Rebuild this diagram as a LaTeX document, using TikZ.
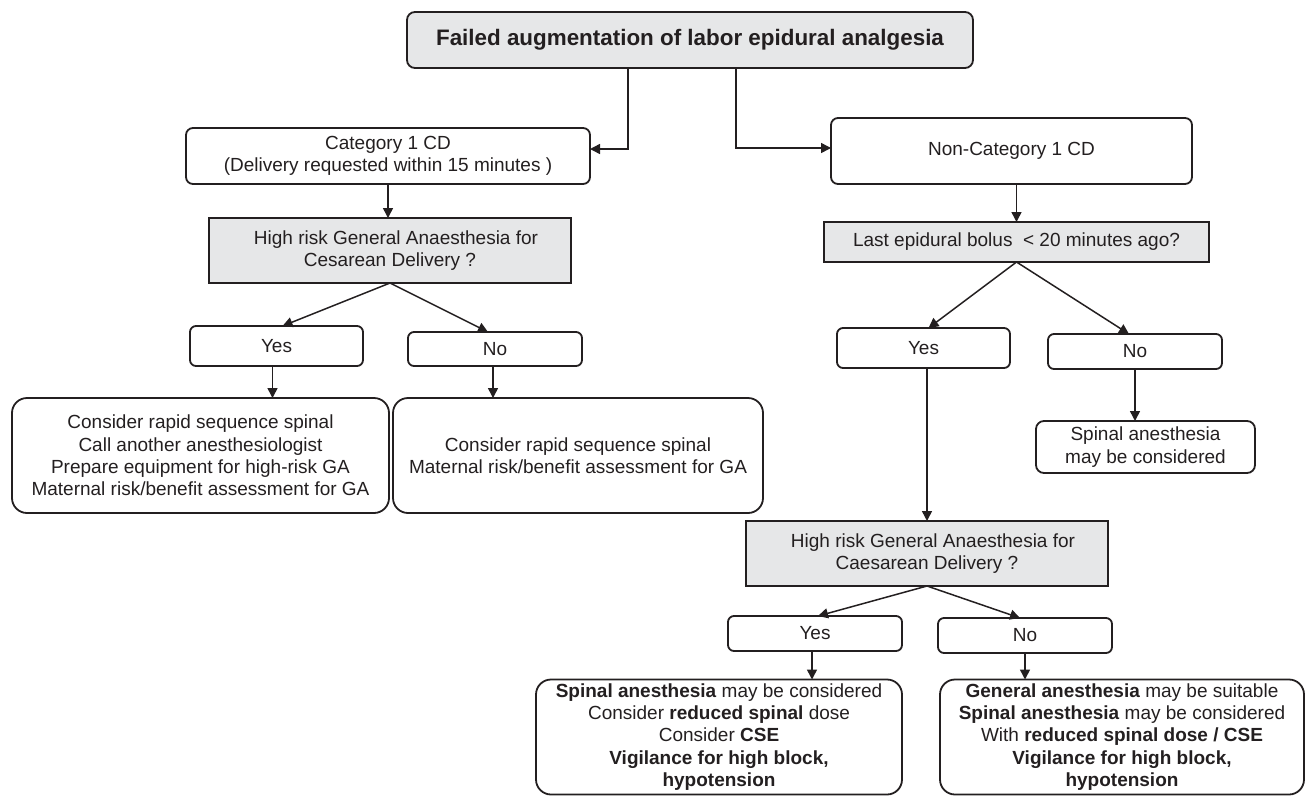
\documentclass[tikz,border=0pt]{standalone}
\usepackage{fontspec}
\setmainfont{Liberation Sans}
\usetikzlibrary{arrows.meta}
\definecolor{boxgray}{HTML}{E6E7E8}
\definecolor{ink}{HTML}{231F20}
\begin{document}
\begin{tikzpicture}[x=1pt,y=-1pt,
  base/.style={draw=ink,line width=1.8pt,inner sep=0pt,outer sep=0pt,align=center,text=ink,
    font=\fontsize{19}{22.3}\selectfont},
  rbox/.style={base,rounded corners=#1},
  gbox/.style={base,fill=boxgray},
  arr/.style={draw=ink,line width=1.5pt,-{Triangle[length=10pt,width=10pt]}},
  wh/.style 2 args={minimum width=#1pt,minimum height=#2pt}]
\useasboundingbox (0,0) rectangle (1306,796);

\node[rbox=8pt,fill=boxgray,wh={566}{56},font=\fontsize{22.4}{26}\selectfont\bfseries] (title) at (690,40) {Failed augmentation of labor epidural analgesia};

\node[rbox=7pt,wh={404}{56}] (cat1) at (388,156) {Category 1 CD\\(Delivery requested within 15 minutes )};
\node[rbox=7pt,wh={361}{66}] (noncat) at (1011.5,151) {Non-Category 1 CD};

\node[gbox,wh={362}{65}] (g1) at (390,250.5) {\hspace*{12pt}High risk General Anaesthesia for\\Cesarean Delivery ?};
\node[gbox,wh={385}{40}] (g2) at (1016.5,242) {Last epidural bolus\ \ < 20 minutes ago?};

\node[rbox=6pt,wh={173}{40}] (yes1) at (276.5,346) {Yes};
\node[rbox=6pt,wh={174}{34}] (no1) at (495,349) {No};

\node[rbox=15pt,wh={377}{115}] (res1) at (200.5,455.5) {Consider rapid sequence spinal\\Call another anesthesiologist\\Prepare equipment for high-risk GA\\Maternal risk/benefit assessment for GA};
\node[rbox=15pt,wh={370}{115}] (res2) at (578,455.5) {Consider rapid sequence spinal\\Maternal risk/benefit assessment for GA};

\node[rbox=6pt,wh={173}{40}] (yes2) at (923.5,348) {Yes};
\node[rbox=6pt,wh={174}{35}] (no2) at (1135,351.5) {No};
\node[rbox=8pt,wh={219}{52}] (spinal) at (1145.5,447) {Spinal anesthesia\\may be considered};

\node[gbox,wh={362}{65}] (g3) at (927,553.5) {\hspace*{12pt}High risk General Anaesthesia for\\Caesarean Delivery ?};

\node[rbox=6pt,wh={174}{35}] (yes3) at (815,633.5) {Yes};
\node[rbox=6pt,wh={174}{35}] (no3) at (1025,635.5) {No};

\node[rbox=15pt,wh={366}{115}] (res3) at (719,737) {\textbf{Spinal anesthesia} may be considered\\Consider \textbf{reduced spinal} dose\\Consider \textbf{CSE}\\\textbf{Vigilance for high block,}\\\textbf{hypotension}};
\node[rbox=15pt,wh={364}{115}] (res4) at (1122,737) {\textbf{General anesthesia} may be suitable\\\textbf{Spinal anesthesia} may be considered\\With \textbf{reduced spinal dose / CSE}\\\textbf{Vigilance for high block,}\\\textbf{hypotension}};

\draw[arr] ([xshift=-62pt]title.south) |- ([yshift=7pt]cat1.east);
\draw[arr] ([xshift=46pt]title.south) |- ([yshift=3pt]noncat.west);
\draw[arr] (cat1.south) -- (cat1.south |- g1.north);
\draw[arr] (noncat.south -| g2.north) -- (g2.north);
\draw[arr] (g1.south) -- ([xshift=6pt]yes1.north);
\draw[arr] (g1.south) -- ([xshift=-7pt]no1.north);
\draw[arr] ([xshift=-4pt]yes1.south) -- ([xshift=-4pt]yes1.south |- res1.north);
\draw[arr] ([xshift=-2pt]no1.south) -- ([xshift=-2pt]no1.south |- res2.north);
\draw[arr] (g2.south) -- ([xshift=5pt]yes2.north);
\draw[arr] (g2.south) -- ([xshift=-6pt]no2.north);
\draw[arr] (no2.south) -- (no2.south |- spinal.north);
\draw[arr] (yes2.south -| g3.north) -- (g3.north);
\draw[arr] (g3.south) -- ([xshift=3pt]yes3.north);
\draw[arr] (g3.south) -- ([xshift=-5pt]no3.north);
\draw[arr] ([xshift=-3pt]yes3.south) -- ([xshift=-3pt]yes3.south |- res3.north);
\draw[arr] (no3.south) -- (no3.south |- res4.north);
\end{tikzpicture}
\end{document}
